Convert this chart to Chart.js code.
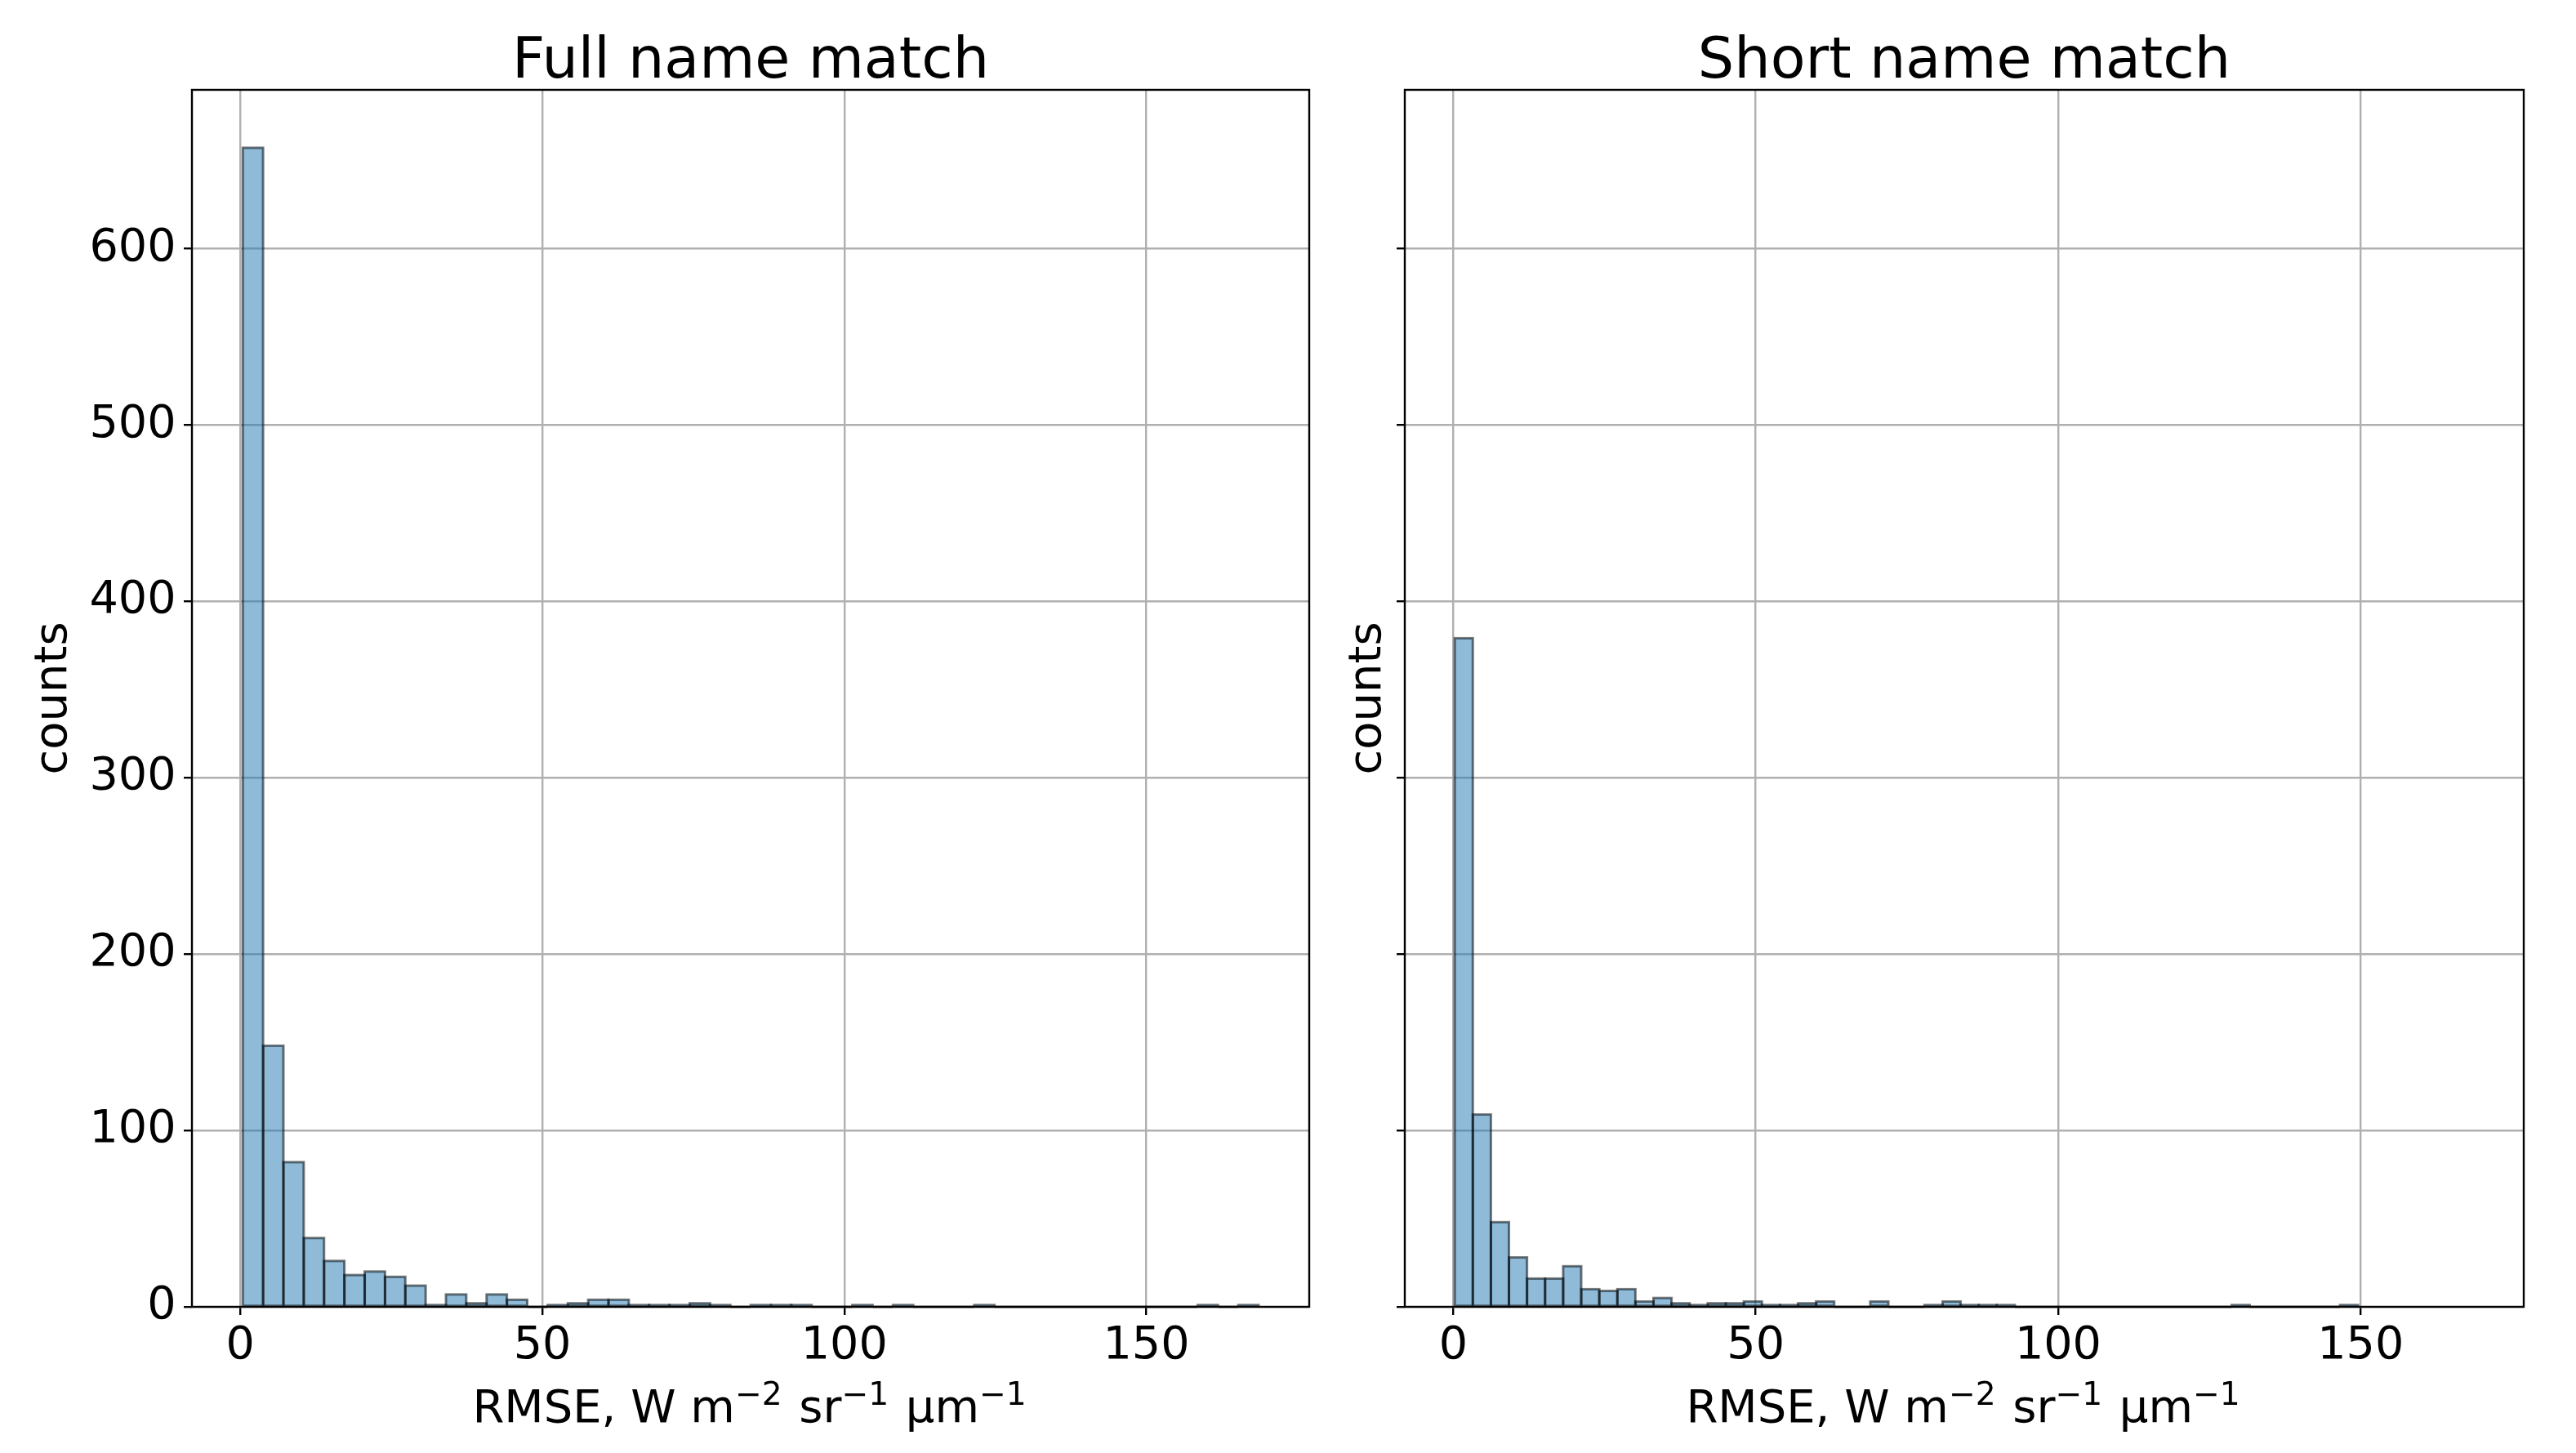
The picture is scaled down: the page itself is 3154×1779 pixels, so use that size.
<!DOCTYPE html>
<html><head><meta charset="utf-8">
<script src="https://cdn.jsdelivr.net/npm/chart.js@4.4.1/dist/chart.umd.min.js"></script>
<style>
html,body{margin:0;padding:0;background:#fff;width:3154px;height:1779px;overflow:hidden;}
canvas{position:absolute;top:0;}
#c1{left:0;} #c2{left:1610px;}
</style></head><body>
<canvas id="c1" width="1610" height="1779"></canvas>
<canvas id="c2" width="1544" height="1779"></canvas>
<script>
// ---- data ----
const panelTitles = ['Full name match', 'Short name match'];
// x-axis label: [text, isSuperscript]
const xAxisLabelParts = [['RMSE, W m', false], ['\u22122', true], [' sr', false], ['\u22121', true], [' \u00B5m', false], ['\u22121', true]];
const yAxisLabel = 'counts';
// 50-bin histogram counts
const fullCounts = [657,148,82,39,26,18,20,17,12,1, 7,2,7,4,0,1,2,4,4,1, 1,1,2,1,0,1,1,1,0,0, 1,0,1,0,0,0,1,0,0,0, 0,0,0,0,0,0,0,1,0,1];
const shortCounts = [379,109,48,28,16,16,23,10,9,10, 3,5,2,1,2,2,3,1,1,2, 3,0,0,3,0,0,1,3,1,1, 1,0,0,0,0,0,0,0,0,0, 0,0,0,1,0,0,0,0,0,1];
// data range (min, max) of each histogram
const fullRange = [0.4, 168.6];
const shortRange = [0.24, 149.6];
const xLimits = [-8.02, 176.98];
const xTickValues = [0, 50, 100, 150];
const yTickValues = [0, 100, 200, 300, 400, 500, 600];

const FONT = "'DejaVu Sans', sans-serif";
const LABEL_SIZE = 56;
const yMax = Math.max(...fullCounts, ...shortCounts) * 1.05;

function binPoints(counts, range) {
  const bw = (range[1] - range[0]) / counts.length;
  return counts.map((c, i) => ({x: range[0] + bw * (i + 0.5), y: c}));
}

const edgePlugin = {
  id: 'edges',
  afterDatasetsDraw(chart) {
    const ctx = chart.ctx;
    const meta = chart.getDatasetMeta(0);
    ctx.save();
    ctx.strokeStyle = 'rgba(0,0,0,0.5)';
    ctx.lineWidth = 3.0;
    meta.data.forEach(bar => {
      const p = bar.getProps(['x', 'y', 'base', 'width'], true);
      ctx.strokeRect(p.x - p.width / 2, p.y, p.width, p.base - p.y);
    });
    ctx.restore();
  }
};
const spinePlugin = {
  id: 'spines',
  afterDraw(chart) {
    const a = chart.chartArea, ctx = chart.ctx;
    ctx.save();
    ctx.strokeStyle = '#000';
    ctx.lineWidth = 2.4;
    ctx.strokeRect(a.left, a.top, a.right - a.left, a.bottom - a.top);
    ctx.restore();
  }
};
// x-axis label with real superscripts (mathtext-like)
const xLabelPlugin = {
  id: 'xlabel',
  afterDraw(chart) {
    const a = chart.chartArea, ctx = chart.ctx;
    const supSize = LABEL_SIZE * 0.7, raise = 21.4, scriptSpace = 0.05 * LABEL_SIZE;
    const fontFor = sup => (sup ? supSize : LABEL_SIZE) + 'px ' + FONT;
    ctx.save();
    let total = 0;
    const widths = xAxisLabelParts.map(([t, sup]) => {
      ctx.font = fontFor(sup);
      const w = ctx.measureText(t).width + (sup ? scriptSpace : 0);
      total += w; return w;
    });
    let x = (a.left + a.right) / 2 - total / 2;
    const baseY = chart.scales.x.bottom - 38;
    ctx.fillStyle = '#000';
    ctx.textBaseline = 'alphabetic';
    ctx.textAlign = 'left';
    xAxisLabelParts.forEach(([t, sup], i) => {
      ctx.font = fontFor(sup);
      ctx.fillText(t, x, sup ? baseY - raise : baseY);
      x += widths[i];
    });
    ctx.restore();
  }
};

function makeChart(id, counts, range, title, o) {
  return new Chart(document.getElementById(id), {
    type: 'bar',
    data: {datasets: [{
      data: binPoints(counts, range),
      backgroundColor: 'rgba(31,119,180,0.5)',
      borderWidth: 0,
      barPercentage: 1.0,
      categoryPercentage: 1.0
    }]},
    options: {
      responsive: false, maintainAspectRatio: false, animation: false,
      devicePixelRatio: 1,
      layout: {padding: {left: 0, right: o.padRight, top: 0, bottom: 0}},
      plugins: {
        legend: {display: false},
        tooltip: {enabled: false},
        title: {display: true, text: title, fullSize: false, color: '#000',
          font: {family: FONT, size: 70, weight: 'normal', lineHeight: 0.9},
          padding: {top: 45, bottom: 2}}
      },
      scales: {
        x: {
          type: 'linear', min: xLimits[0], max: xLimits[1], z: 1, offset: false,
          afterBuildTicks: s => { s.ticks = xTickValues.map(v => ({value: v})); },
          afterFit: s => { s.height = 179; },
          ticks: {autoSkip: false, maxRotation: 0, color: '#000', padding: 5,
            font: {family: FONT, size: 55.6, lineHeight: 1.2}, callback: v => String(v)},
          grid: {color: '#b0b0b0', lineWidth: 2.4, tickColor: '#000', tickWidth: 2.4, tickLength: 10, offset: false},
          border: {display: false},
          title: {display: false}
        },
        y: {
          min: 0, max: yMax, z: 1,
          afterBuildTicks: s => { s.ticks = yTickValues.map(v => ({value: v})); },
          afterFit: s => { s.width = o.yWidth; },
          ticks: {color: '#000', padding: 9.4, font: {family: FONT, size: 55.6},
            callback: v => o.showYLabels ? String(v) : ''},
          grid: {color: '#b0b0b0', lineWidth: 2.4, tickColor: '#000', tickWidth: 2.4, tickLength: 10},
          border: {display: false},
          title: {display: true, text: yAxisLabel, color: '#000',
            font: {family: FONT, size: LABEL_SIZE, lineHeight: 1}, padding: {top: o.yTitlePad, bottom: 0}}
        }
      }
    },
    plugins: [edgePlugin, spinePlugin, xLabelPlugin]
  });
}

makeChart('c1', fullCounts, fullRange, panelTitles[0], {padRight: 7, yWidth: 235, yTitlePad: 38, showYLabels: true});
makeChart('c2', shortCounts, shortRange, panelTitles[1], {padRight: 64, yWidth: 110, yTitlePad: 37, showYLabels: false});
</script>
</body></html>
